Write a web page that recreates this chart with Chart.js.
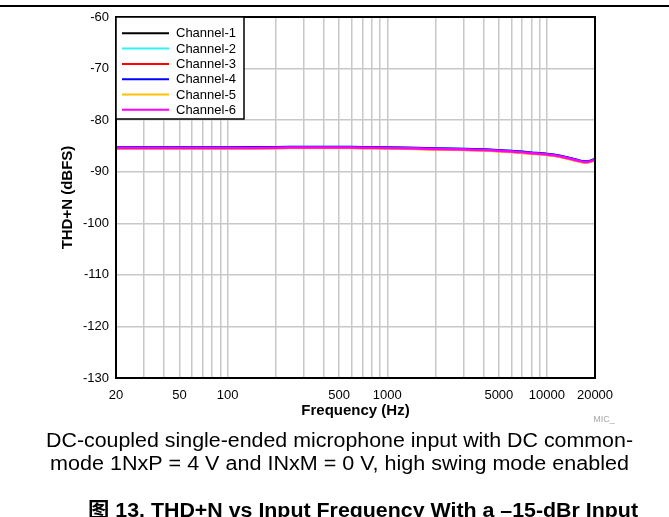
<!DOCTYPE html>
<html>
<head>
<meta charset="utf-8">
<script src="https://cdn.jsdelivr.net/npm/chart.js@4/dist/chart.umd.min.js"></script>
<style>
  html, body { margin: 0; padding: 0; background: #fff; }
  canvas { display: block; }
</style>
</head>
<body>
<canvas id="chart" width="669" height="517"></canvas>
<script>
const freqs = [20, 30, 50, 100, 200, 300, 500, 700, 1000, 1500, 2000, 3000, 4000, 5000, 6000, 7000, 8000, 10000, 12000, 14000, 16000, 17000, 18000, 19000, 20000];

const channel1 = [-85.35, -85.35, -85.35, -85.35, -85.3, -85.25, -85.25, -85.3, -85.35, -85.45, -85.55, -85.65, -85.75, -85.9, -86.05, -86.2, -86.35, -86.6, -86.95, -87.45, -87.9, -88.05, -88.05, -87.85, -87.55];
const channel2 = [-85.3, -85.3, -85.3, -85.3, -85.25, -85.2, -85.2, -85.25, -85.3, -85.4, -85.5, -85.6, -85.7, -85.85, -86.0, -86.15, -86.3, -86.55, -86.9, -87.4, -87.85, -88.0, -88.0, -87.8, -87.5];
const channel3 = [-85.45, -85.45, -85.45, -85.45, -85.4, -85.35, -85.35, -85.4, -85.45, -85.55, -85.65, -85.75, -85.85, -86.0, -86.15, -86.3, -86.45, -86.7, -87.05, -87.55, -88.0, -88.15, -88.15, -87.95, -87.65];
const channel4 = [-85.3, -85.3, -85.3, -85.3, -85.25, -85.2, -85.2, -85.25, -85.3, -85.4, -85.5, -85.6, -85.7, -85.85, -86.0, -86.15, -86.3, -86.55, -86.9, -87.4, -87.85, -88.0, -88.0, -87.8, -87.5];
const channel5 = [-85.5, -85.5, -85.5, -85.5, -85.45, -85.4, -85.4, -85.45, -85.5, -85.6, -85.7, -85.8, -85.9, -86.05, -86.2, -86.35, -86.5, -86.75, -87.1, -87.6, -88.05, -88.2, -88.2, -88.0, -87.7];
const channel6 = [-85.4, -85.4, -85.4, -85.4, -85.35, -85.3, -85.3, -85.35, -85.4, -85.5, -85.6, -85.7, -85.8, -85.95, -86.1, -86.25, -86.4, -86.65, -87.0, -87.5, -87.95, -88.1, -88.1, -87.9, -87.6];

const seriesNames = ['Channel-1', 'Channel-2', 'Channel-3', 'Channel-4', 'Channel-5', 'Channel-6'];
const seriesColors = ['#000000', '#33f2f2', '#ff0000', '#0000ff', '#ffc000', '#ff00ff'];
const allSeries = [channel1, channel2, channel3, channel4, channel5, channel6];

const xTickLabels = [20, 50, 100, 500, 1000, 5000, 10000, 20000];
const yTicks = [-130, -120, -110, -100, -90, -80, -70, -60];

const FONT = "'Liberation Sans', Arial, 'Noto Sans CJK SC', sans-serif";

// grid lines at 1..9 x 10^n inside the range
const gridFreqs = [];
for (let dec = 10; dec <= 10000; dec *= 10) {
  for (let m = 1; m <= 9; m++) {
    const v = m * dec;
    if (v >= 20 && v <= 20000) gridFreqs.push(v);
  }
}

const datasets = allSeries.map((arr, i) => ({
  label: seriesNames[i],
  data: freqs.map((f, j) => ({ x: f, y: arr[j] })),
  borderColor: seriesColors[i],
  backgroundColor: seriesColors[i],
  borderWidth: 2.5,
  pointRadius: 0,
  tension: 0.3,
  fill: false,
  // lower order drawn on top -> magenta last on top
  order: seriesNames.length - i
}));

// frame around plot, boxed legend, caption text
const decorations = {
  id: 'decorations',
  afterDatasetsDraw(chart) {
    const { ctx, chartArea: a } = chart;
    ctx.save();
    ctx.strokeStyle = '#000';
    ctx.lineWidth = 2;
    ctx.strokeRect(a.left, a.top, a.right - a.left, a.bottom - a.top);

    // legend box
    const bx = a.left, by = a.top, bw = 128, bh = 102;
    ctx.fillStyle = '#fff';
    ctx.fillRect(bx, by, bw, bh);
    ctx.lineWidth = 1.5;
    ctx.strokeRect(bx, by, bw, bh);
    ctx.font = '13px ' + FONT;
    ctx.textBaseline = 'middle';
    ctx.textAlign = 'left';
    seriesNames.forEach((name, i) => {
      const y = by + 16.3 + i * 15.3;
      ctx.strokeStyle = seriesColors[i];
      ctx.lineWidth = 2;
      ctx.beginPath();
      ctx.moveTo(bx + 6, y);
      ctx.lineTo(bx + 53, y);
      ctx.stroke();
      ctx.fillStyle = '#000';
      ctx.fillText(name, bx + 60, y + 0.5);
    });
    ctx.restore();
  },
  afterDraw(chart) {
    const { ctx } = chart;
    ctx.save();
    // top rule
    ctx.fillStyle = '#000';
    ctx.fillRect(0, 5, 669, 2);

    ctx.fillStyle = '#aaa';
    ctx.font = '9px ' + FONT;
    ctx.textAlign = 'center';
    ctx.textBaseline = 'middle';
    ctx.fillText('MIC_', 604, 420);

    const line = (text, font, cx, baseline, width) => {
      ctx.font = font;
      const w = ctx.measureText(text).width;
      ctx.save();
      ctx.translate(cx, baseline);
      ctx.scale(width / w, 1);
      ctx.textAlign = 'center';
      ctx.textBaseline = 'alphabetic';
      ctx.fillStyle = '#000';
      ctx.fillText(text, 0, 0);
      ctx.restore();
    };
    line('DC-coupled single-ended microphone input with DC common-', '20px ' + FONT, 339.5, 447, 587);
    line('mode 1NxP = 4 V and INxM = 0 V, high swing mode enabled', '20px ' + FONT, 339.5, 470, 579);
    line('图 13. THD+N vs Input Frequency With a \u201315-dBr Input', 'bold 20px ' + FONT, 363, 517, 550);
    ctx.restore();
  }
};

new Chart(document.getElementById('chart'), {
  type: 'line',
  data: { datasets: datasets },
  options: {
    responsive: false,
    animation: false,
    layout: { padding: { left: 0, top: 17, right: 74, bottom: 97 } },
    plugins: { legend: { display: false }, tooltip: { enabled: false } },
    scales: {
      x: {
        type: 'logarithmic',
        min: 20,
        max: 20000,
        afterBuildTicks: (s) => { s.ticks = gridFreqs.map(v => ({ value: v })); },
        afterFit: (s) => { s.height = 42; },
        ticks: {
          autoSkip: false,
          maxRotation: 0,
          padding: 10,
          color: '#000',
          font: { size: 13, family: FONT },
          callback: (v) => xTickLabels.includes(v) ? String(v) : ''
        },
        grid: { color: '#c8c8c8', lineWidth: 1.5, drawTicks: false },
        border: { color: '#000', width: 2 },
        title: {
          display: true,
          text: 'Frequency (Hz)',
          color: '#000',
          font: { size: 15, weight: 'bold', family: FONT },
          padding: 0
        }
      },
      y: {
        min: -130,
        max: -60,
        afterBuildTicks: (s) => { s.ticks = yTicks.map(v => ({ value: v })); },
        afterFit: (s) => { s.width = 116; },
        ticks: {
          padding: 7,
          color: '#000',
          font: { size: 13, family: FONT }
        },
        grid: { color: '#c8c8c8', lineWidth: 1.5, drawTicks: false },
        border: { color: '#000', width: 2 },
        title: {
          display: true,
          text: 'THD+N (dBFS)',
          color: '#000',
          font: { size: 15, weight: 'bold', family: FONT },
          padding: { top: 59, bottom: 0 }
        }
      }
    }
  },
  plugins: [decorations]
});
</script>
</body>
</html>
